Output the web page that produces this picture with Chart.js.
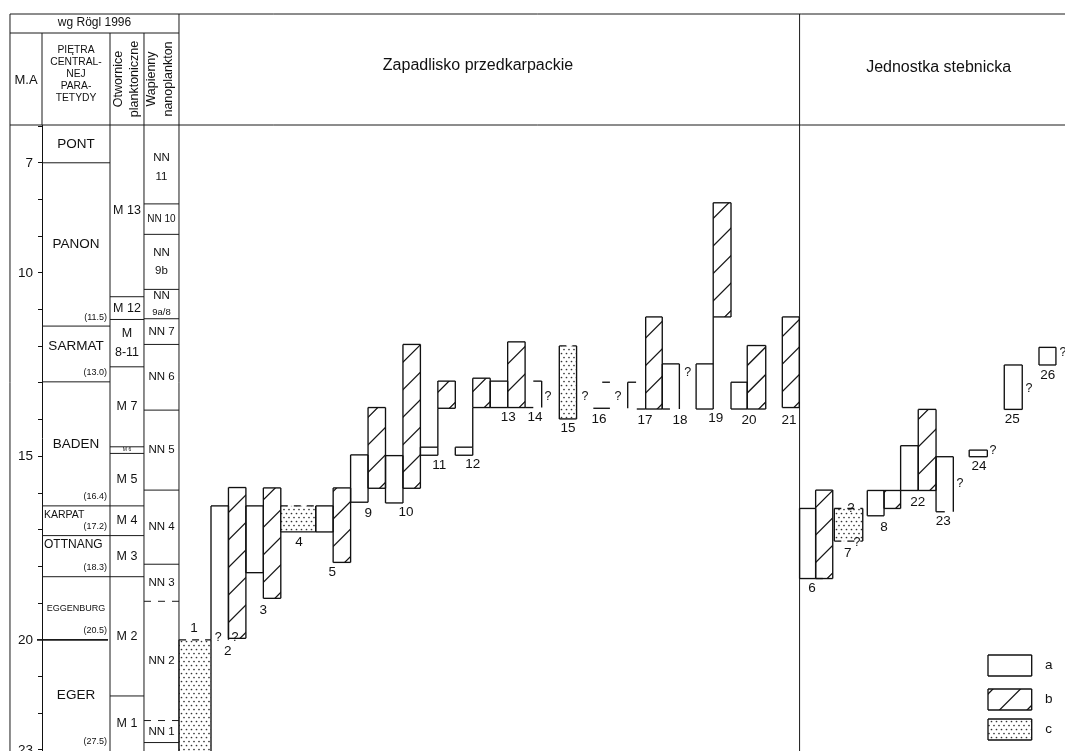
<!DOCTYPE html>
<html><head><meta charset="utf-8">
<script src="https://cdn.jsdelivr.net/npm/chart.js@4.4.0/dist/chart.umd.min.js"></script>
<style>
html,body{margin:0;padding:0;background:#fff;overflow:hidden}
canvas{display:block}
</style></head>
<body>
<canvas id="chart" width="1065" height="751"></canvas>
<script>
// ================= DATA =================
// Age axis (M.A)
const maTickValues = [6,7,8,9,10,11,12,13,14,15,16,17,18,19,20,21,22,23];
const maTickLabels = {7:'7', 10:'10', 15:'15', 20:'20', 23:'23'};

// Stages of the Central Paratethys (wg Rögl 1996)
const stageNames   = ['PONT','PANON','SARMAT','BADEN','KARPAT','OTTNANG','EGGENBURG','EGER'];
const stageBaseMa  = [7.0, 11.45, 12.97, 16.35, 17.16, 18.28, 20.0, 23.1];
const stageAgeText = ['', '(11.5)', '(13.0)', '(16.4)', '(17.2)', '(18.3)', '(20.5)', '(27.5)'];

// Planktonic foraminifera zones
const foramZones  = ['M 13','M 12','M\n8-11','M 7','M 6','M 5','M 4','M 3','M 2','M 1'];
const foramBaseMa = [10.65, 11.27, 12.56, 14.74, 14.92, 16.35, 17.16, 18.28, 21.53, 23.1];

// Calcareous nannoplankton zones
const nannoZones  = ['NN\n11','NN 10','NN\n9b','NN\n9a/8','NN 7','NN 6','NN 5','NN 4','NN 3','NN 2','NN 1'];
const nannoBaseMa = [8.12, 8.95, 10.45, 11.25, 11.95, 13.74, 15.92, 17.94, 18.95, 22.2, 22.8];
const nannoBaseUncertain = [false,false,false,false,false,false,false,false,true,true,false];

// Ranges in sections (column order across the chart; facies a / b / c)
const barWell   = ['1','2','2','3','3','4','5','5','9','9','10','10','11','11','12','12','13','13','14','15','17','18','19','19','20','20','21','6','6','7','8','8','22','22','23','24','25','26'];
const barFacies = ['c','a','b','a','b','c','a','b','a','b','a','b','a','b','a','b','a','b','a','c','b','a','a','b','a','b','b','a','b','c','a','b','a','b','a','a','a','a'];
const barFrom   = [0.17,2,3,4,5,6,8,9,10,11,12,13,14,15,16,17,18,19,20.47,21.96,26.91,27.86,29.8,30.78,31.8,32.73,34.74,35.73,36.65,37.72,39.61,40.57,41.52,42.53,43.55,45.45,47.46,49.45];
const barTo     = [2,3,4,5,6,8,9,10,11,12,13,14,15,16,17,18,19,20,20.95,22.95,27.86,28.84,30.78,31.8,32.73,33.79,35.71,36.65,37.63,39.35,40.57,41.52,42.53,43.55,44.54,46.49,48.49,50.42];
const barTopMa  = [20.0,16.35,15.85,16.35,15.86,16.35,16.35,15.86,14.96,13.67,14.98,11.95,14.75,12.95,14.75,12.87,12.95,11.88,12.95,11.99,11.2,12.48,12.48,8.09,12.98,11.98,11.2,16.42,15.92,16.42,15.93,15.93,14.71,13.72,15.01,14.83,12.51,12.03];
const barBaseMa = [23.1,20.0,19.96,18.17,18.87,17.06,17.06,17.89,16.25,15.87,16.27,15.87,14.97,13.69,14.97,13.67,13.67,13.67,13.67,13.98,13.71,13.71,13.71,11.2,13.71,13.71,13.67,18.33,18.33,17.31,16.62,16.42,15.93,15.93,16.51,15.01,13.72,12.51];

// Connecting lines between ranges [col0, ma0, col1, ma1]
const linkLines = [
  [15,13.69,15,14.75],[17,13.67,17,14.75],[20,13.67,20.47,13.67],
  [24.42,12.98,24.86,12.98],[23.91,13.69,24.86,13.69],
  [25.88,12.98,26.36,12.98],[25.88,12.98,25.88,13.69],[26.4,13.71,26.91,13.71],
  [27.86,13.71,28.3,13.71],[30.78,11.2,30.78,12.48],
  [36.65,18.33,37.06,18.33],[43.55,16.51,44.05,16.51]
];

// Section numbers and question marks
const noteText = ['1','?','2','?','3','4','5','9','10','11','12','13','14','?','15','?','16','?','17','18','?','19','20','21','6','?','7','?','8','22','23','?','24','?','25','?','26','?'];
const noteCol  = [1.03,2.42,2.96,3.38,5.0,7.04,8.95,11.01,13.17,15.08,17.0,19.04,20.57,21.31,22.46,23.43,24.23,25.32,26.87,28.88,29.32,30.92,32.83,35.12,36.44,38.68,38.49,39.02,40.57,42.5,43.97,44.92,46.01,46.81,47.92,48.88,49.95,50.82];
const noteMa   = [19.69,19.94,20.3,19.93,19.19,17.34,18.15,16.55,16.53,15.24,15.22,13.94,13.94,13.38,14.24,13.36,13.98,13.36,14.01,14.01,12.72,13.96,14.01,14.01,18.59,16.41,17.64,17.36,16.92,16.24,16.78,15.74,15.28,14.83,13.99,13.15,12.78,12.16];

const legendKeys = ['a','b','c'];

// ================= LAYOUT / STYLE =================
const X_MIN = -7.685, X_MAX = 50.94, Y_MIN = 5.97, Y_MAX = 23.03;
const COL_EDGES = [-9.519, -7.685, -3.788, -1.84, 0.166];
const SEPARATOR_COL = 35.73;
const FONT = '"Liberation Sans", Arial, Helvetica, sans-serif';
const INK = '#111';
const barEdgeStyle = {
  0:{dashTop:true}, 1:{edges:'tlr'}, 5:{dashTop:true}, 18:{edges:'tr'},
  19:{dashTop:true}, 21:{edges:'tlr'}, 29:{dashTop:true, dashBottom:true}, 34:{edges:'tlr'}
};
const stageLabelStyle = [
  {size:13.5},{size:13.5},{size:13.5, dy:-0.21},{size:13.5},
  {size:10.5, left:true},{size:12, left:true},{size:9},{size:13.5}
];

// dotted fill
const dotCanvas = document.createElement('canvas');
dotCanvas.width = 10; dotCanvas.height = 8;
(function(){
  const g = dotCanvas.getContext('2d');
  g.fillStyle = '#fff'; g.fillRect(0,0,10,8);
  g.fillStyle = '#333';
  [[1.5,1.5],[6.5,1.5],[4,5.5],[9,5.5]].forEach(p=>{g.beginPath(); g.arc(p[0],p[1],0.85,0,Math.PI*2); g.fill();});
})();

function txt(ctx, s, x, y, size, align, base){
  ctx.fillStyle = INK;
  ctx.font = size + 'px ' + FONT;
  ctx.textAlign = align || 'center';
  ctx.textBaseline = base || 'middle';
  ctx.fillText(s, x, y);
}
function seg(ctx, x0, y0, x1, y1, dash){
  ctx.save();
  if (dash) ctx.setLineDash(dash);
  ctx.beginPath(); ctx.moveTo(x0,y0); ctx.lineTo(x1,y1); ctx.stroke();
  ctx.restore();
}
function hatch(ctx, x0, y0, x1, y1){
  const w = x1-x0, h = y1-y0, sp = 27.5, phase = 16;
  ctx.save();
  ctx.beginPath(); ctx.rect(x0,y0,w,h); ctx.clip();
  ctx.lineWidth = 1.25; ctx.strokeStyle = '#151515';
  ctx.beginPath();
  let c = phase; while (c > -w) c -= sp;
  for (; c < h + sp; c += sp){
    ctx.moveTo(x0-3, y1 - c + 3);
    ctx.lineTo(x1+3, y1 - c - w - 3);
  }
  ctx.stroke();
  ctx.restore();
}
function drawBox(ctx, x0, y0, x1, y1, facies, st){
  st = st || {};
  if (facies === 'c'){
    ctx.save();
    ctx.fillStyle = ctx.createPattern(dotCanvas,'repeat');
    ctx.fillRect(x0,y0,x1-x0,y1-y0);
    ctx.restore();
  }
  if (facies === 'b') hatch(ctx, x0, y0, x1, y1);
  const e = st.edges || 'tlrb';
  ctx.strokeStyle = INK; ctx.lineWidth = 1.35;
  if (e.includes('t')) seg(ctx, x0, y0, x1, y0, st.dashTop ? [7,6] : null);
  if (e.includes('b')) seg(ctx, x0, y1, x1, y1, st.dashBottom ? [7,6] : null);
  if (e.includes('l')) seg(ctx, x0, y0, x0, y1);
  if (e.includes('r')) seg(ctx, x1, y0, x1, y1);
}

const stratPlugin = {
  id: 'strat',
  afterDraw(chart){
    const ctx = chart.ctx, xs = chart.scales.x, ys = chart.scales.y, ca = chart.chartArea;
    const X = v => xs.getPixelForValue(v);
    const Y = v => ys.getPixelForValue(Math.min(Math.max(v, Y_MIN - 0.05), Y_MAX + 0.2));
    const cx = COL_EDGES.map(X);
    const topLine = ca.top - 111, roglLine = ca.top - 92;
    ctx.save();
    ctx.strokeStyle = '#1a1a1a'; ctx.lineWidth = 1;

    // ---- frame ----
    seg(ctx, cx[0], topLine, ca.right, topLine);
    seg(ctx, cx[0], roglLine, cx[4], roglLine);
    seg(ctx, cx[0], ca.top, ca.right, ca.top);
    seg(ctx, cx[0], topLine, cx[0], ca.bottom);
    seg(ctx, cx[1], roglLine, cx[1], ca.top);
    seg(ctx, cx[2], roglLine, cx[2], ca.bottom);
    seg(ctx, cx[3], roglLine, cx[3], ca.bottom);
    seg(ctx, cx[4], topLine, cx[4], ca.bottom);
    const sep = X(SEPARATOR_COL);
    seg(ctx, sep, topLine, sep, ca.bottom);

    // ---- headers ----
    txt(ctx, 'wg Rögl 1996', (cx[0]+cx[4])/2, topLine + 9, 12);
    txt(ctx, 'M.A', (cx[0]+cx[1])/2, ca.top - 45, 13);
    const hdr = ['PIĘTRA','CENTRAL-','NEJ','PARA-','TETYDY'];
    hdr.forEach((s,i)=> txt(ctx, s, (cx[1]+cx[2])/2, ca.top - 75 + i*12.1, 10.3));
    const rot = (lines, xc) => {
      lines.forEach((s,i)=>{
        ctx.save(); ctx.translate(xc[i], ca.top - 46); ctx.rotate(-Math.PI/2);
        txt(ctx, s, 0, 0, 12.5); ctx.restore();
      });
    };
    rot(['Otwornice','planktoniczne'], [cx[2]+8.5, cx[2]+25]);
    rot(['Wapienny','nanoplankton'], [cx[3]+8, cx[3]+24.5]);
    txt(ctx, 'Zapadlisko przedkarpackie', X(17.3), ca.top - 59, 16);
    txt(ctx, 'Jednostka stebnicka', X(43.7), ca.top - 57, 16);

    // ---- stages ----
    stageNames.forEach((n,i)=>{
      const top = i === 0 ? Y_MIN : stageBaseMa[i-1];
      const base = stageBaseMa[i];
      const st = stageLabelStyle[i];
      if (base < Y_MAX){
        ctx.lineWidth = (base === 20.0) ? 1.7 : 1;
        seg(ctx, base === 20.0 ? cx[1]-5 : cx[1], Y(base), base === 20.0 ? cx[2]-2 : cx[2], Y(base));
        ctx.lineWidth = 1;
      }
      if (st.left){
        txt(ctx, n, cx[1]+2, Y(top)+9, st.size, 'left');
      } else {
        const yb = Math.min(base, Y_MAX);
        txt(ctx, n, (cx[1]+cx[2])/2, Y((top+yb)/2 + (st.dy||0)), st.size);
      }
      if (stageAgeText[i]) txt(ctx, stageAgeText[i], cx[2]-3, Y(Math.min(base,Y_MAX)) - 9, 9, 'right');
    });

    // ---- foraminifera zones ----
    foramZones.forEach((n,i)=>{
      const top = i === 0 ? Y_MIN : foramBaseMa[i-1];
      const base = foramBaseMa[i];
      if (base < Y_MAX) seg(ctx, cx[2], Y(base), cx[3], Y(base));
      const mid = (top + Math.min(base, Y_MAX)) / 2;
      const xm = (cx[2]+cx[3])/2;
      const parts = n.split('\n');
      if (n === 'M 6') { txt(ctx, n, xm, Y(mid), 5); return; }
      if (parts.length === 2){
        txt(ctx, parts[0], xm, Y(mid)-9.5, 12.5);
        txt(ctx, parts[1], xm, Y(mid)+9.5, 12.5);
      } else txt(ctx, n, xm, Y(mid), 12.5);
    });

    // ---- nannoplankton zones ----
    nannoZones.forEach((n,i)=>{
      const top = i === 0 ? Y_MIN : nannoBaseMa[i-1];
      const base = nannoBaseMa[i];
      if (base < Y_MAX) seg(ctx, cx[3], Y(base), cx[4], Y(base), nannoBaseUncertain[i] ? [7,7] : null);
      const mid = (top + Math.min(base, Y_MAX)) / 2 + (i === 0 ? 0.08 : 0);
      const xm = (cx[3]+cx[4])/2;
      const parts = n.split('\n');
      if (parts.length === 2){
        const s2 = parts[1] === '9a/8' ? 9.5 : 11.5;
        const gap = parts[1] === '9a/8' ? 8.3 : 9.2;
        txt(ctx, parts[0], xm, Y(mid)-gap, 11.5);
        txt(ctx, parts[1], xm, Y(mid)+gap, s2);
      } else txt(ctx, n, xm, Y(mid), n === 'NN 10' ? 10 : 11.5);
    });

    // ---- ranges ----
    barWell.forEach((w,i)=>{
      drawBox(ctx, X(barFrom[i]), Y(barTopMa[i]), X(barTo[i]), Y(barBaseMa[i]), barFacies[i], barEdgeStyle[i]);
    });
    ctx.strokeStyle = INK; ctx.lineWidth = 1.35;
    linkLines.forEach(l => seg(ctx, X(l[0]), Y(l[1]), X(l[2]), Y(l[3])));

    // ---- labels ----
    noteText.forEach((t,i)=> txt(ctx, t, X(noteCol[i]), Y(noteMa[i]), t === '?' ? 12.5 : 13.5));

    // ---- legend ----
    const lx = ca.right - 77, lw = 43.7, lh = 21;
    const ltops = [ca.bottom - 96, ca.bottom - 62, ca.bottom - 32];
    legendKeys.forEach((k,i)=>{
      drawBox(ctx, lx, ltops[i], lx+lw, ltops[i]+lh, k, {});
      txt(ctx, k, lx + lw + 17, ltops[i] + lh/2, 13.5, 'center');
    });
    ctx.restore();
  }
};

new Chart(document.getElementById('chart'), {
  type: 'scatter',
  data: { datasets: [{ label: 'sections', data: noteCol.map((c,i)=>({x:c, y:noteMa[i]})), pointRadius: 0, showLine: false }] },
  options: {
    responsive: false, animation: false, devicePixelRatio: 1, events: [],
    layout: { padding: { top: 125, left: 0, right: 0, bottom: 0 } },
    plugins: { legend: { display: false }, tooltip: { enabled: false } },
    scales: {
      x: { type: 'linear', min: X_MIN, max: X_MAX, display: false },
      y: {
        type: 'linear', reverse: true, min: Y_MIN, max: Y_MAX,
        afterBuildTicks(s){ s.ticks = maTickValues.map(v => ({ value: v })); },
        afterFit(s){ s.width = 42; s.paddingTop = 0; s.paddingBottom = 0; },
        ticks: { callback: v => maTickLabels[v] || '', color: INK, padding: 5, autoSkip: false, maxRotation: 0,
                 font: { family: FONT, size: 13.5 } },
        grid: { drawOnChartArea: false, drawTicks: true, tickLength: 4, color: INK, lineWidth: 1 },
        border: { display: true, color: INK, width: 1 }
      }
    }
  },
  plugins: [stratPlugin]
});
</script>
</body></html>
